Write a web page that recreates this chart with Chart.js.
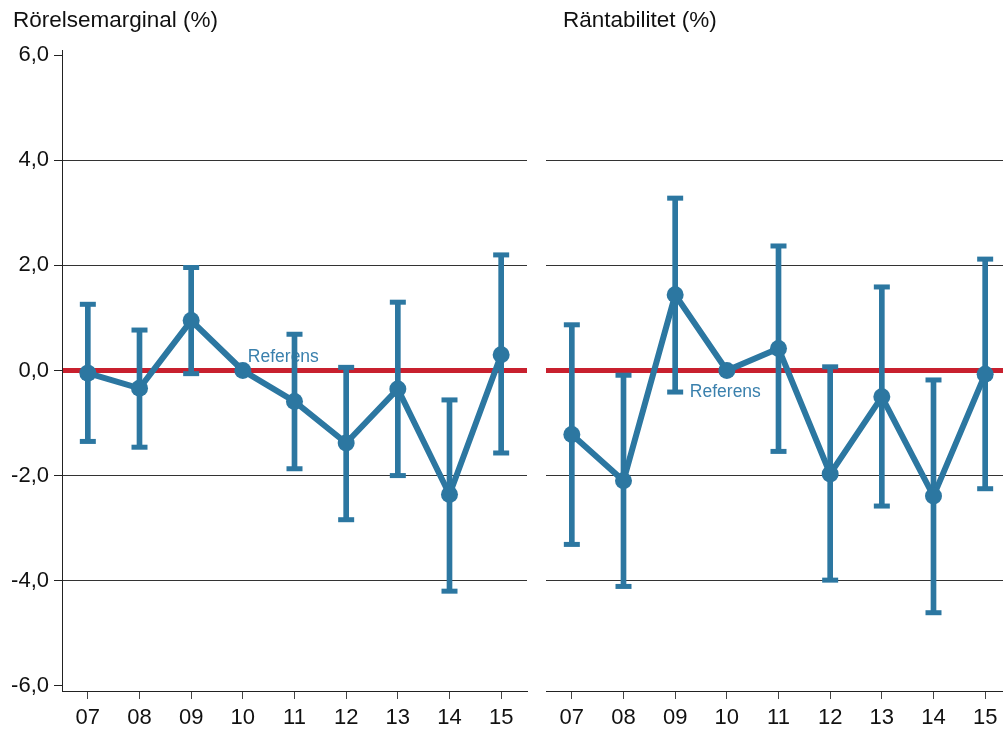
<!DOCTYPE html>
<html>
<head>
<meta charset="utf-8">
<script src="https://cdn.jsdelivr.net/npm/chart.js@4/dist/chart.umd.min.js"></script>
<style>
  html, body { margin: 0; padding: 0; background: #fff; overflow: hidden; width: 1003px; height: 731px; }
  canvas { position: absolute; top: 0; }
  #margin { left: 0; }
  #returns { left: 530px; }
</style>
</head>
<body>
<canvas id="margin" width="530" height="731" style="width:530px;height:731px"></canvas>
<canvas id="returns" width="490" height="731" style="width:490px;height:731px"></canvas>
<script>
// Years on the category axis and the fixed y ticks
const years = ['07', '08', '09', '10', '11', '12', '13', '14', '15'];
const yTickValues = [-6, -4, -2, 0, 2, 4, 6];
const referenceYear = '10';

// Rörelsemarginal: estimate and confidence interval (percentage points vs. 2010)
const marginValues = [-0.05, -0.34, 0.95, 0, -0.59, -1.38, -0.35, -2.36, 0.30];
const marginLow    = [-1.35, -1.46, -0.06, null, -1.87, -2.84, -2.00, -4.20, -1.57];
const marginHigh   = [1.26, 0.77, 1.96, null, 0.69, 0.06, 1.30, -0.56, 2.20];

// Räntabilitet: estimate and confidence interval
const returnValues = [-1.22, -2.10, 1.44, 0, 0.42, -1.97, -0.50, -2.39, -0.07];
const returnLow    = [-3.31, -4.11, -0.41, null, -1.54, -3.99, -2.58, -4.61, -2.25];
const returnHigh   = [0.87, -0.09, 3.28, null, 2.37, 0.07, 1.59, -0.18, 2.12];

const BLUE = '#2c77a1';
const LABEL_BLUE = '#3a80ad';
const RED = '#c8202e';
const FONT = '"Liberation Sans", Arial, Helvetica, sans-serif';

// Panel heading and the "Referens" note next to the base year point
const panelText = {
  id: 'panelText',
  beforeDatasetsDraw(chart, args, opts) {
    const ctx = chart.ctx;
    const xs = chart.scales.x, ys = chart.scales.y;
    const px = xs.getPixelForValue(years.indexOf(referenceYear));
    const py = ys.getPixelForValue(0);
    ctx.save();
    ctx.font = '17.5px ' + FONT;
    ctx.fillStyle = LABEL_BLUE;
    ctx.textAlign = 'left';
    ctx.textBaseline = 'alphabetic';
    ctx.fillText('Referens', px + opts.noteDx, py + opts.noteDy);
    ctx.restore();
  },
  afterDraw(chart, args, opts) {
    const ctx = chart.ctx;
    ctx.save();
    ctx.font = '22.5px ' + FONT;
    ctx.fillStyle = '#111';
    ctx.textAlign = 'left';
    ctx.textBaseline = 'alphabetic';
    ctx.fillText(opts.title, opts.titleX, 27);
    ctx.restore();
  }
};

function makeChart(canvasId, title, values, low, high, cfg) {
  const stems = low.map((l, i) => (l === null ? null : [l, high[i]]));
  return new Chart(document.getElementById(canvasId), {
    type: 'line',
    data: {
      labels: years,
      datasets: [
        {
          label: title,
          data: values,
          borderColor: BLUE,
          backgroundColor: BLUE,
          borderWidth: 6,
          pointRadius: 8.5,
          pointBackgroundColor: BLUE,
          pointBorderWidth: 0,
          tension: 0,
          order: 0
        },
        {
          type: 'bar',
          label: 'interval',
          data: stems,
          backgroundColor: BLUE,
          borderWidth: 0,
          barThickness: 5,
          order: 2
        },
        {
          label: 'upper',
          data: high,
          showLine: false,
          pointStyle: 'line',
          pointRadius: 8,
          pointBorderWidth: 5,
          pointBorderColor: BLUE,
          order: 1
        },
        {
          label: 'lower',
          data: low,
          showLine: false,
          pointStyle: 'line',
          pointRadius: 8,
          pointBorderWidth: 5,
          pointBorderColor: BLUE,
          order: 1
        }
      ]
    },
    options: {
      responsive: false,
      animation: false,
      devicePixelRatio: 1,
      events: [],
      layout: { autoPadding: false, padding: { top: 50, right: cfg.padRight, left: 0, bottom: 0 } },
      plugins: {
        legend: { display: false },
        tooltip: { enabled: false },
        panelText: { title: title, titleX: cfg.titleX, noteDx: cfg.noteDx, noteDy: cfg.noteDy }
      },
      scales: {
        x: {
          offset: true,
          afterFit: s => { s.height = 40; },
          border: { display: true, color: '#222', width: 1 },
          grid: { offset: false, drawOnChartArea: false, drawTicks: true, tickLength: 8, tickColor: '#444', tickWidth: 1 },
          ticks: { font: { family: FONT, size: 22 }, color: '#111', padding: 6, maxRotation: 0, autoSkip: false }
        },
        y: {
          min: -6.1,
          max: 6.1,
          afterBuildTicks: s => { s.ticks = yTickValues.map(v => ({ value: v })); },
          afterFit: s => { s.width = cfg.yWidth; },
          border: { display: cfg.showY, color: '#222', width: 1 },
          grid: {
            color: c => (c.tick && c.tick.value === 0) ? RED
              : (c.tick && Math.abs(c.tick.value) === 6) ? 'rgba(0,0,0,0)' : '#333',
            lineWidth: c => (c.tick && c.tick.value === 0) ? 5 : 1,
            drawTicks: cfg.showY,
            tickLength: 8,
            tickColor: '#222',
            tickWidth: 1
          },
          ticks: {
            display: cfg.showY,
            font: { family: FONT, size: 22 },
            color: '#111',
            padding: 5,
            callback: v => v.toFixed(1).replace('.', ',')
          }
        }
      }
    },
    plugins: [panelText]
  });
}

makeChart('margin', 'Rörelsemarginal (%)', marginValues, marginLow, marginHigh,
  { padRight: 3, yWidth: 62, showY: true, titleX: 13, noteDx: 5, noteDy: -9 });
makeChart('returns', 'Räntabilitet (%)', returnValues, returnLow, returnHigh,
  { padRight: 9, yWidth: 16, showY: false, titleX: 33, noteDx: -37, noteDy: 26 });
</script>
</body>
</html>
